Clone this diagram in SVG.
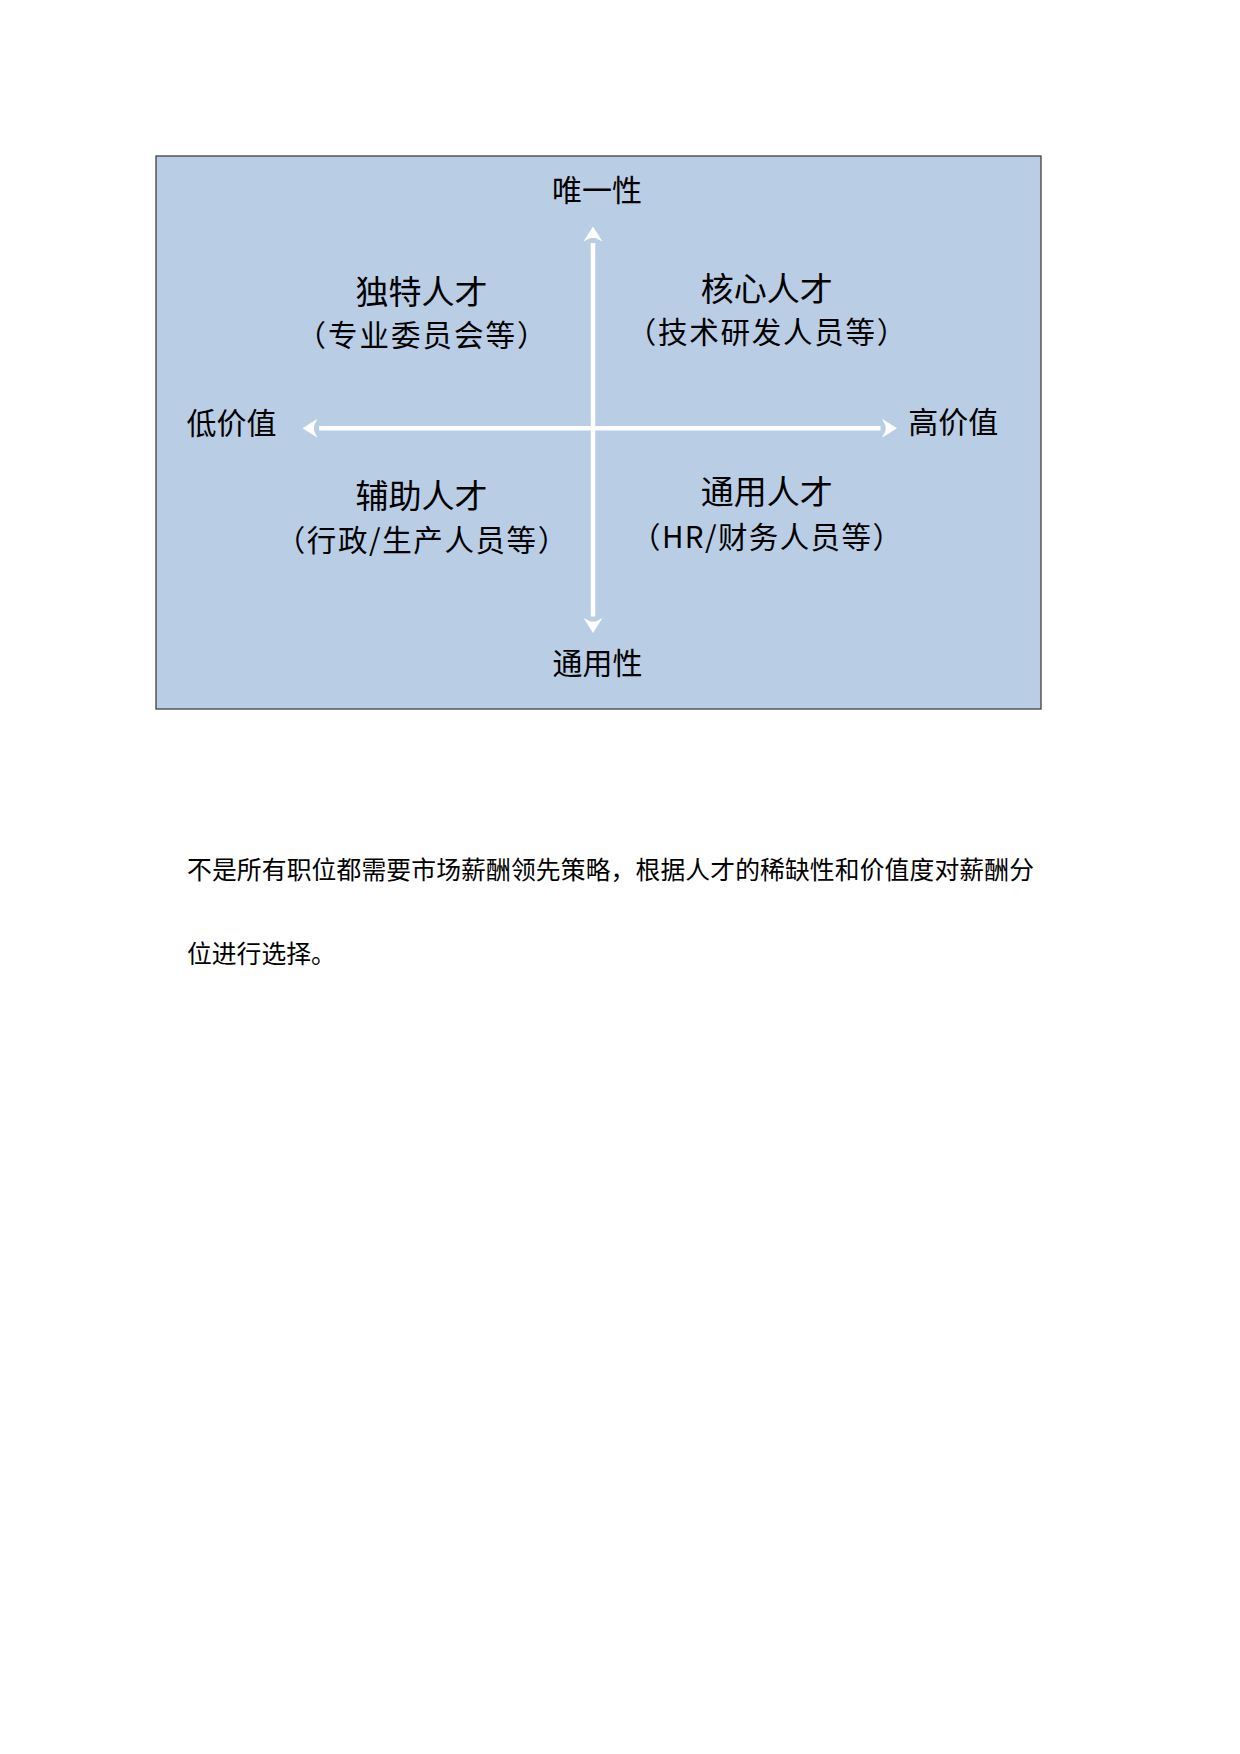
<svg xmlns="http://www.w3.org/2000/svg" width="1240" height="1754" viewBox="0 0 1240 1754">
<style>
.lbl{font-family:"Noto Sans CJK SC","Noto Sans",sans-serif;fill:#000;text-anchor:middle}
.ax{font-size:30px}
.ttl{font-size:33px}
.sub{font-size:29.5px}
.para{font-family:"Noto Sans CJK SC","Noto Sans",sans-serif;font-size:24.8px;fill:#000}
.axis{stroke:#fff;stroke-width:4.5;fill:none;marker-start:url(#ah);marker-end:url(#ah)}
</style>
<defs>
<marker id="ah" markerUnits="userSpaceOnUse" markerWidth="22" markerHeight="22" viewBox="0 -11 22 22" refX="0" refY="0" orient="auto-start-reverse" overflow="visible">
<path d="M16.5,0 L1.5,-9.5 L5,-2.5 L5,2.5 L1.5,9.5 Z" fill="#fff"/>
</marker>
</defs>
<rect width="1240" height="1754" fill="#fff"/>
<g id="box">
<rect x="156" y="156" width="885" height="553" fill="#B9CDE5" stroke="#404040" stroke-width="1.3"/>
</g>
<g id="connectors">
<line class="axis" x1="593" y1="243" x2="593" y2="616.5"/>
<line class="axis" x1="319" y1="428.3" x2="880.5" y2="428.3"/>
</g>
<g id="axis-labels">
<text id="top" class="lbl ax" x="597" y="201">唯一性</text>
<text id="bottom" class="lbl ax" x="597.5" y="674">通用性</text>
<text id="left" class="lbl ax" x="231.5" y="434.4">低价值</text>
<text id="right" class="lbl ax" x="953.3" y="432.6">高价值</text>
</g>
<g id="q-unique">
<text class="lbl ttl" x="421.5" y="303.5">独特人才</text>
<text class="lbl sub" x="422.5" y="346.4" letter-spacing="2">（专业委员会等）</text>
</g>
<g id="q-core">
<text class="lbl ttl" x="766.7" y="300.8">核心人才</text>
<text class="lbl sub" x="767.4" y="343" letter-spacing="1.75">（技术研发人员等）</text>
</g>
<g id="q-support">
<text class="lbl ttl" x="421.5" y="507.5">辅助人才</text>
<text class="lbl sub" x="422.3" y="550.7" letter-spacing="1.6">（行政/生产人员等）</text>
</g>
<g id="q-general">
<text class="lbl ttl" x="766.7" y="503.8">通用人才</text>
<text class="lbl sub" x="767.2" y="547.7" letter-spacing="1.4">（HR/财务人员等）</text>
</g>
<g id="paragraph">
<text class="para" x="187" y="879.4" textLength="847" lengthAdjust="spacing">不是所有职位都需要市场薪酬领先策略，根据人才的稀缺性和价值度对薪酬分</text>
<text class="para" x="187" y="963.2">位进行选择。</text>
</g>
</svg>
